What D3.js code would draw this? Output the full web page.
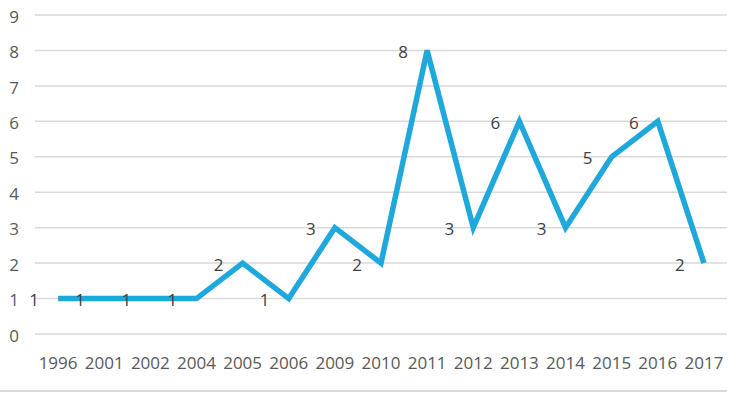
<!DOCTYPE html>
<html><head><meta charset="utf-8">
<script src="https://cdn.jsdelivr.net/npm/d3@7/dist/d3.min.js"></script>
<style>body{margin:0;background:#fff}svg{display:block}text{font-family:"Open Sans",sans-serif}</style>
</head><body><svg id="c" width="736" height="398"></svg>
<script>
const years = ["1996","2001","2002","2004","2005","2006","2009","2010","2011","2012","2013","2014","2015","2016","2017"];
const counts = [1,1,1,1,2,1,3,2,8,3,6,3,5,6,2];
const yTicks = [0,1,2,3,4,5,6,7,8,9];

const svg = d3.select("#c");
const x = d3.scaleBand().domain(years).range([35,727]);
const y = d3.scaleLinear().domain([0,9]).range([334,15]);
const cx = d => x(d) + x.bandwidth()/2;

svg.append("g").selectAll("line").data(yTicks).join("line")
  .attr("x1",35).attr("x2",727).attr("y1",d=>y(d)).attr("y2",d=>y(d))
  .attr("stroke","#d9d9d9").attr("stroke-width",1.5);

const ya = svg.append("g").attr("transform","translate(19,0)")
  .call(d3.axisLeft(y).tickValues(yTicks).tickSize(0).tickPadding(0));
ya.select(".domain").remove();
ya.selectAll("text").attr("font-size",17).attr("fill","#595959").attr("font-family","Open Sans").attr("dy","0.42em");

const xa = svg.append("g").attr("transform","translate(0,357)")
  .call(d3.axisBottom(x).tickSize(0).tickPadding(0));
xa.select(".domain").remove();
xa.selectAll("text").attr("font-size",17).attr("fill","#595959").attr("font-family","Open Sans").attr("dy","0.71em");

const data = years.map((yr,i)=>({yr,v:counts[i]}));
svg.append("path").datum(data)
  .attr("d", d3.line().x(d=>cx(d.yr)).y(d=>y(d.v)))
  .attr("fill","none").attr("stroke","#1fa8db").attr("stroke-width",5.5).attr("stroke-linejoin","miter");

svg.append("g").selectAll("text").data(data).join("text")
  .attr("x",d=>cx(d.yr)-24).attr("y",d=>y(d.v)).attr("dy","0.45em")
  .attr("text-anchor","middle").attr("font-size",17).attr("fill","#404040").text(d=>d.v);

svg.append("line").attr("x1",0).attr("x2",727).attr("y1",391).attr("y2",391)
  .attr("stroke","#d9d9d9").attr("stroke-width",2);
</script></body></html>
